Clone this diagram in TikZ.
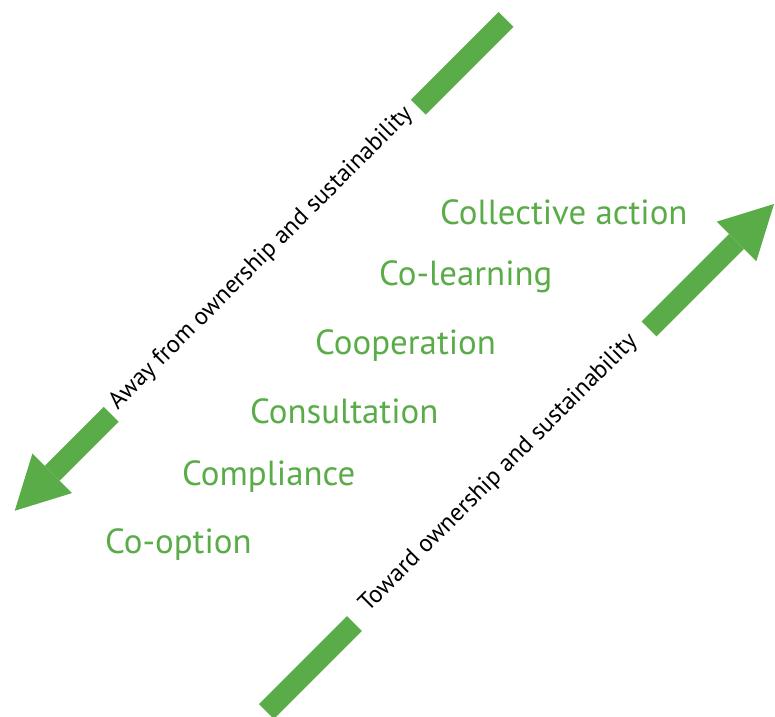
\documentclass[tikz,border=0pt]{standalone}
\usepackage{fontspec}
\setmainfont{PT Sans}
\usetikzlibrary{arrows.meta}
\definecolor{leafgreen}{RGB}{89,172,71}
\begin{document}
\begin{tikzpicture}[x=1bp,y=-1bp,
  shaft/.style={draw=leafgreen,line width=21bp},
  headed/.style={shaft,-{Triangle[length=53bp,width=56bp,line width=0pt]}},
  dirlabel/.style={font=\fontsize{24.6}{28}\selectfont,text=black,rotate=45,anchor=base,inner sep=0pt},
  stage/.style={font=\fontsize{35}{40}\selectfont,text=leafgreen,anchor=base west,inner sep=0pt}]
\useasboundingbox (0,0) rectangle (775,717);
% left arrow (away)
\coordinate (a1) at (506,19.5);
\coordinate (a2) at (418.25,107.25);
\coordinate (a3) at (111.25,414.25);
\coordinate (a4) at (14.75,510.75);
\draw[shaft] (a1) -- (a2);
\draw[headed] (a3) -- (a4);
\node[dirlabel] (away) at (265.65,262.65) {Away from ownership and sustainability};
% right arrow (toward)
\coordinate (b1) at (266.5,711.5);
\coordinate (b2) at (354.5,623.5);
\coordinate (b3) at (649,329);
\coordinate (b4) at (774,204);
\draw[shaft] (b1) -- (b2);
\draw[headed] (b3) -- (b4);
\node[dirlabel] (toward) at (503.15,477.65) {Toward ownership and sustainability};
% stages
\node[stage] (s6) at (440,224) {Collective action};
\node[stage] (s5) at (379,285) {Co-learning};
\node[stage] (s4) at (315,354) {Cooperation};
\node[stage] (s3) at (250,423) {Consultation};
\node[stage] (s2) at (182,485) {Compliance};
\node[stage] (s1) at (105,553) {Co-option};
\end{tikzpicture}
\end{document}
